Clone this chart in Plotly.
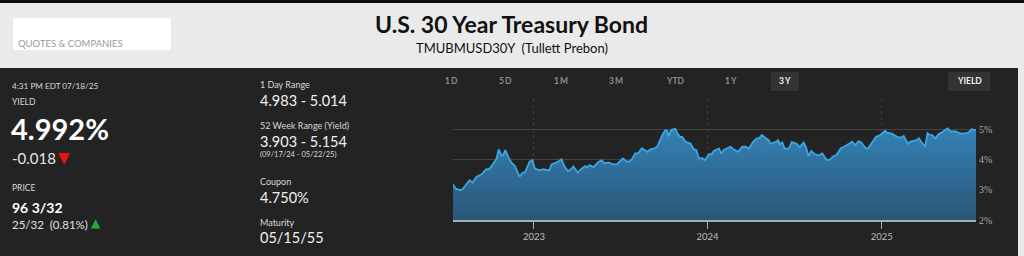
import plotly.graph_objects as go

# ---------------- data ----------------
dates = [
    "2022-07-15", "2022-07-20", "2022-07-29", "2022-08-04", "2022-08-12", "2022-08-19", "2022-08-25",
    "2022-09-02", "2022-09-13", "2022-09-23", "2022-09-29", "2022-10-07", "2022-10-14", "2022-10-19",
    "2022-10-25", "2022-10-28", "2022-11-02", "2022-11-08", "2022-11-15", "2022-11-22", "2022-12-02",
    "2022-12-08", "2022-12-13", "2022-12-23", "2022-12-29", "2023-01-03", "2023-01-13", "2023-01-20",
    "2023-02-02", "2023-02-07", "2023-02-17", "2023-02-28", "2023-03-07", "2023-03-14", "2023-03-19",
    "2023-03-25", "2023-04-03", "2023-04-12", "2023-04-19", "2023-04-22", "2023-04-28", "2023-05-06",
    "2023-05-17", "2023-05-24", "2023-05-29", "2023-06-07", "2023-06-17", "2023-06-24", "2023-07-07",
    "2023-07-14", "2023-07-19", "2023-07-25", "2023-08-02", "2023-08-08", "2023-08-16", "2023-08-27",
    "2023-09-03", "2023-09-13", "2023-09-18", "2023-09-27", "2023-10-04", "2023-10-08", "2023-10-11",
    "2023-10-16", "2023-10-25", "2023-10-29", "2023-11-03", "2023-11-09", "2023-11-16", "2023-11-26",
    "2023-12-03", "2023-12-08", "2023-12-14", "2023-12-21", "2023-12-26", "2024-01-04", "2024-01-09",
    "2024-01-14", "2024-01-25", "2024-01-30", "2024-02-04", "2024-02-18", "2024-02-25", "2024-03-05",
    "2024-03-14", "2024-03-21", "2024-03-28", "2024-04-06", "2024-04-13", "2024-04-18", "2024-04-24",
    "2024-05-01", "2024-05-09", "2024-05-12", "2024-05-18", "2024-05-25", "2024-05-28", "2024-06-01",
    "2024-06-06", "2024-06-11", "2024-06-20", "2024-06-26", "2024-07-06", "2024-07-12", "2024-07-21",
    "2024-07-26", "2024-07-31", "2024-08-06", "2024-08-13", "2024-08-20", "2024-08-29", "2024-09-06",
    "2024-09-13", "2024-09-20", "2024-09-28", "2024-10-07", "2024-10-14", "2024-10-23", "2024-10-31",
    "2024-11-06", "2024-11-13", "2024-11-19", "2024-11-28", "2024-12-03", "2024-12-12", "2024-12-20",
    "2024-12-29", "2025-01-08", "2025-01-12", "2025-01-22", "2025-02-02", "2025-02-09", "2025-02-16",
    "2025-02-25", "2025-03-02", "2025-03-15", "2025-03-20", "2025-03-27", "2025-04-02", "2025-04-07",
    "2025-04-12", "2025-04-17", "2025-04-24", "2025-04-30", "2025-05-06", "2025-05-19", "2025-05-27",
    "2025-06-03", "2025-06-09", "2025-06-17", "2025-06-27", "2025-07-04", "2025-07-09", "2025-07-18",
]
yields = [
    3.19, 3.05, 3.00, 3.02, 3.19, 3.32, 3.24,
    3.43, 3.52, 3.69, 3.69, 3.88, 4.02, 4.35,
    4.15, 4.15, 4.33, 4.10, 3.91, 3.80, 3.44,
    3.58, 3.58, 3.94, 3.99, 3.71, 3.65, 3.69,
    3.65, 3.85, 3.91, 4.02, 3.76, 3.63, 3.67,
    3.78, 3.58, 3.72, 3.80, 3.74, 3.83, 3.76,
    3.94, 3.99, 3.89, 3.91, 3.85, 3.85, 4.05,
    3.96, 3.94, 4.00, 4.22, 4.22, 4.39, 4.27,
    4.35, 4.39, 4.47, 4.80, 4.99, 4.98, 4.78,
    5.00, 5.04, 4.91, 4.78, 4.76, 4.60, 4.55,
    4.35, 4.34, 4.05, 4.06, 3.99, 4.19, 4.19,
    4.30, 4.38, 4.21, 4.33, 4.44, 4.35, 4.27,
    4.44, 4.44, 4.38, 4.61, 4.72, 4.72, 4.83,
    4.74, 4.65, 4.54, 4.58, 4.61, 4.66, 4.52,
    4.58, 4.38, 4.38, 4.60, 4.54, 4.43, 4.58,
    4.41, 4.13, 4.30, 4.19, 4.15, 4.22, 4.02,
    3.99, 4.11, 4.17, 4.39, 4.44, 4.52, 4.61,
    4.49, 4.63, 4.58, 4.39, 4.38, 4.61, 4.77,
    4.83, 4.97, 4.91, 4.88, 4.77, 4.74, 4.80,
    4.54, 4.61, 4.66, 4.72, 4.54, 4.43, 4.89,
    4.83, 4.83, 4.72, 4.86, 4.91, 5.05, 4.94,
    4.96, 4.93, 4.88, 4.89, 4.94, 5.02, 4.992,
]
y_ticks = [2, 3, 4, 5, 6]
y_tick_labels = ["2%", "3%", "4%", "5%", ""]
range_tabs = ["1\u2009D", "5\u2009D", "1\u2009M", "3\u2009M", "YTD", "1\u2009Y", "3\u2009Y"]

title = "U.S. 30 Year Treasury Bond"
subtitle = "TMUBMUSD30Y\u00a0 (Tullett Prebon)"
timestamp = "4:31 PM EDT 07/18/25"
yield_value = "4.992%"
yield_change = "-0.018"
price_value = "96 3/32"
price_change = "25/32\u00a0 (0.81%)"
stats = [
    ("1 Day Range", "4.983 - 5.014", None),
    ("52 Week Range (Yield)", "3.903 - 5.154", "(09/17/24 - 05/22/25)"),
    ("Coupon", "4.750%", None),
    ("Maturity", "05/15/55", None),
]

# ---------------- layout helpers ----------------
W, H = 1024, 256          # design grid (reference pixels)
FIG_H = 262               # rendered figure height
def px(x):
    return x / W
def py(y):
    return 1 - y / H

FONT = "Lato"
BG = "#232323"
HEADER = "#eaeaea"

fig = go.Figure()
fig.add_trace(go.Scatter(
    x=dates, y=yields, mode="lines",
    line=dict(color="#3ca6e2", width=1.8),
    fill="tozeroy",
    fillgradient=dict(type="vertical", start=2, stop=5.1,
                      colorscale=[[0, "#2a5575"], [1, "#3482b6"]]),
    hoverinfo="skip", showlegend=False,
))

shapes = []
def rect(x0, y0, x1, y1, color, layer="below"):
    shapes.append(dict(type="rect", xref="paper", yref="paper",
                       x0=px(x0), x1=px(x1), y0=py(y1), y1=py(y0),
                       fillcolor=color, line=dict(width=0), layer=layer))

rect(0, 0, W, 3, "#0d0d0d")
rect(0, 3, W, 68, HEADER)
rect(1018, 68, W, H, HEADER)
rect(13, 18, 171, 50, "#ffffff")
rect(771, 72, 799, 91, "#333333")
rect(948, 72, 990, 91, "#333333")

ann = []
def text(x, y, s, size, color, bold=False, anchor="left", family=FONT):
    ann.append(dict(x=px(x), y=py(y), xref="paper", yref="paper", text=s,
                    showarrow=False, xanchor=anchor, yanchor="middle",
                    borderpad=0,
                    font=dict(family=family, size=size, color=color,
                              weight="bold" if bold else "normal")))

# header
text(17, 43, "QUOTES &amp; COMPANIES", 9.5, "#9a9a9a")
text(511, 24, title, 23, "#111111", bold=True, anchor="center")
text(512, 48, subtitle, 13, "#111111", anchor="center")

# left panel
text(11, 86, timestamp, 8.2, "#d8d8d8")
text(11, 102, "YIELD", 8.5, "#d8d8d8")
text(10, 128, yield_value, 29, "#ffffff", bold=True)
text(11, 158, yield_change, 15, "#e6e6e6")
text(57, 158, "\u25BC", 15, "#ee1111", family="DejaVu Sans")
text(11, 188, "PRICE", 8.5, "#d8d8d8")
text(11, 207, price_value, 14, "#ffffff", bold=True)
text(11, 224, price_change, 11.5, "#e0e0e0")
text(90, 223, "\u25B2", 12, "#22aa33", family="DejaVu Sans")

# middle panel
ys = [(84, 100, None), (125, 141, 154), (181, 197, None), (222, 237, None)]
for (lab, val, sub), (yl, yv, ysb) in zip(stats, ys):
    text(259, yl, lab, 9, "#d8d8d8")
    text(259, yv, val, 14.5, "#f2f2f2")
    if sub:
        text(259, ysb, sub, 7.5, "#d8d8d8")

# range tabs
tab_x = [451, 505, 561, 616, 675, 731, 785]
for t, xx in zip(range_tabs, tab_x):
    sel = t == range_tabs[-1]
    text(xx, 81, t, 8.5, "#f0f0f0" if sel else "#8c8c8c", bold=True, anchor="center")
text(969, 81, "YIELD", 8.5, "#f0f0f0", bold=True, anchor="center")

fig.update_layout(
    width=W, height=FIG_H, autosize=False,
    margin=dict(l=0, r=0, t=0, b=0),
    paper_bgcolor=BG, plot_bgcolor=BG,
    shapes=shapes, annotations=ann,
    xaxis=dict(
        domain=[px(453), px(976)],
        range=["2022-07-15", "2025-07-18"],
        tick0="2023-01-01", dtick="M12", tickformat="%Y",
        ticks="outside", ticklen=7, tickcolor="#9fb0bf", tickwidth=1,
        showline=True, linecolor="#9fb0bf", linewidth=1.5,
        showgrid=True, gridcolor="#3c3c3c", griddash="dot", gridwidth=1,
        tickfont=dict(family=FONT, size=9.5, color="#bdbdbd"),
        zeroline=False, fixedrange=True,
    ),
    yaxis=dict(
        domain=[py(220), py(99)],
        range=[2, 6.03],
        side="right",
        tickvals=y_ticks, ticktext=y_tick_labels,
        ticks="", showline=False, zeroline=False,
        showgrid=True, gridcolor="#444444", gridwidth=1,
        tickfont=dict(family="Liberation Serif", size=10, color="#a8a8a8"),
        ticklabelstandoff=2, fixedrange=True,
    ),
)

fig.write_html("out.html", config={"displayModeBar": False, "staticPlot": True})
